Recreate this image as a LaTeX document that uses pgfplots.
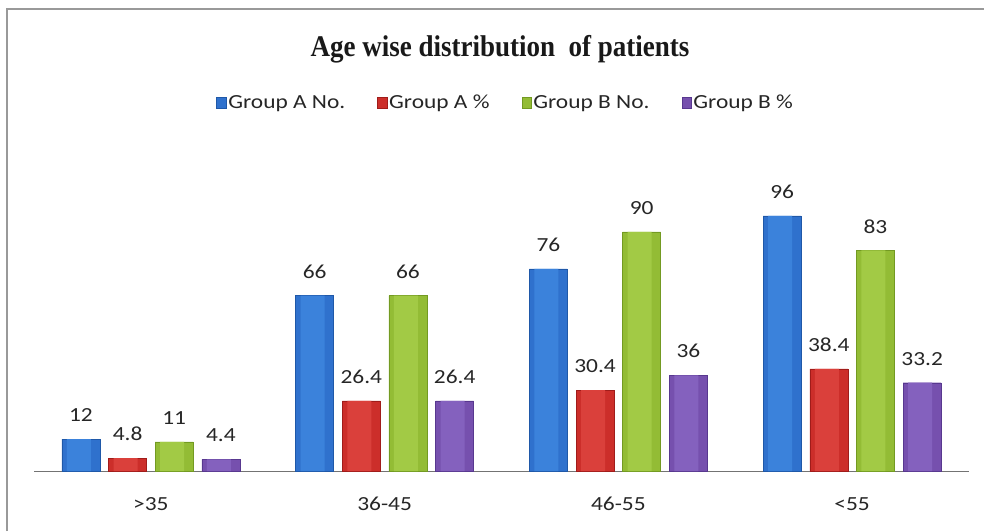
\documentclass[border=0pt]{standalone}
\usepackage{fontspec}
\usepackage{pgfplots}
\pgfplotsset{compat=1.18}
\setmainfont{Carlito}
\newfontfamily\calfont[FakeStretch=1.17]{Carlito}
\newfontfamily\titlefont[FakeStretch=0.9]{Liberation Serif}
\definecolor{bluedark}{HTML}{1F58A8}
\definecolor{bluemid}{HTML}{2F71CD}
\definecolor{bluelight}{HTML}{3B82DB}
\definecolor{reddark}{HTML}{A01C1A}
\definecolor{redmid}{HTML}{CC2E2A}
\definecolor{redlight}{HTML}{DA403B}
\definecolor{greendark}{HTML}{739A22}
\definecolor{greenmid}{HTML}{93BC35}
\definecolor{greenlight}{HTML}{A2CA45}
\definecolor{purpledark}{HTML}{58388F}
\definecolor{purplemid}{HTML}{7650AE}
\definecolor{purplelight}{HTML}{8461BE}
\begin{document}
\begin{tikzpicture}[x=1pt,y=1pt]
\useasboundingbox (0,0) rectangle (984,531);
\draw[color=black!40, line width=1.6pt] (7,0) -- (7,522) -- (984,522);
\node[font=\titlefont\bfseries\fontsize{30}{34}\selectfont, text=black!90] at (500,482) {Age wise distribution\ \ of patients};
\begin{axis}[
  at={(34pt,60pt)}, anchor=south west,
  scale only axis, width=935pt, height=319pt,
  xmin=-0.5, xmax=3.5, ymin=0, ymax=120,
  ybar, bar width=38pt,
  axis x line*=bottom, axis y line=none,
  x axis line style={draw=black!55, line width=1pt},
  xtick={0,1,2,3}, xticklabels={{>35},{36-45},{46-55},{<55}},
  major tick length=0pt,
  xticklabel style={font=\calfont\fontsize{20}{23}\selectfont, text=black!85, anchor=north, inner sep=0pt, yshift=-26pt},
  /pgf/number format/assume math mode=true,
  every node near coord/.append style={font=\calfont\fontsize{20}{23}\selectfont, text=black!85, anchor=south, inner sep=0pt, yshift=17pt},
  legend style={at={(0.5045,1.155)}, anchor=center, legend columns=4, draw=none, fill=none,
    font=\calfont\fontsize{20}{23}\selectfont, text=black!85, inner sep=0pt,
    nodes={inner sep=2pt},
    /tikz/every even column/.append style={column sep=30pt}},
  legend image code/.code={\fill[#1] (0pt,-5.5pt) rectangle (9.5pt,5.5pt);},
  legend cell align=left,
]
% main bars
\addplot[bar shift=-70pt, draw=bluedark, fill=bluemid, nodes near coords] coordinates {(0,12) (1,66) (2,76) (3,96)};
\addplot[bar shift=-23.3pt, draw=reddark, fill=redmid, nodes near coords] coordinates {(0,4.8) (1,26.4) (2,30.4) (3,38.4)};
\addplot[bar shift=23.3pt, draw=greendark, fill=greenmid, nodes near coords] coordinates {(0,11) (1,66) (2,90) (3,83)};
\addplot[bar shift=70pt, draw=purpledark, fill=purplemid, nodes near coords] coordinates {(0,4.4) (1,26.4) (2,36) (3,33.2)};
\legend{Group A No., Group A \%, Group B No., Group B \%}
% highlight strips
\addplot[forget plot, bar shift=-72pt, bar width=24pt, draw=none, fill=bluelight] coordinates {(0,12) (1,66) (2,76) (3,96)};
\addplot[forget plot, bar shift=-25.3pt, bar width=24pt, draw=none, fill=redlight] coordinates {(0,4.8) (1,26.4) (2,30.4) (3,38.4)};
\addplot[forget plot, bar shift=21.3pt, bar width=24pt, draw=none, fill=greenlight] coordinates {(0,11) (1,66) (2,90) (3,83)};
\addplot[forget plot, bar shift=68pt, bar width=24pt, draw=none, fill=purplelight] coordinates {(0,4.4) (1,26.4) (2,36) (3,33.2)};
\end{axis}
\end{tikzpicture}
\end{document}
